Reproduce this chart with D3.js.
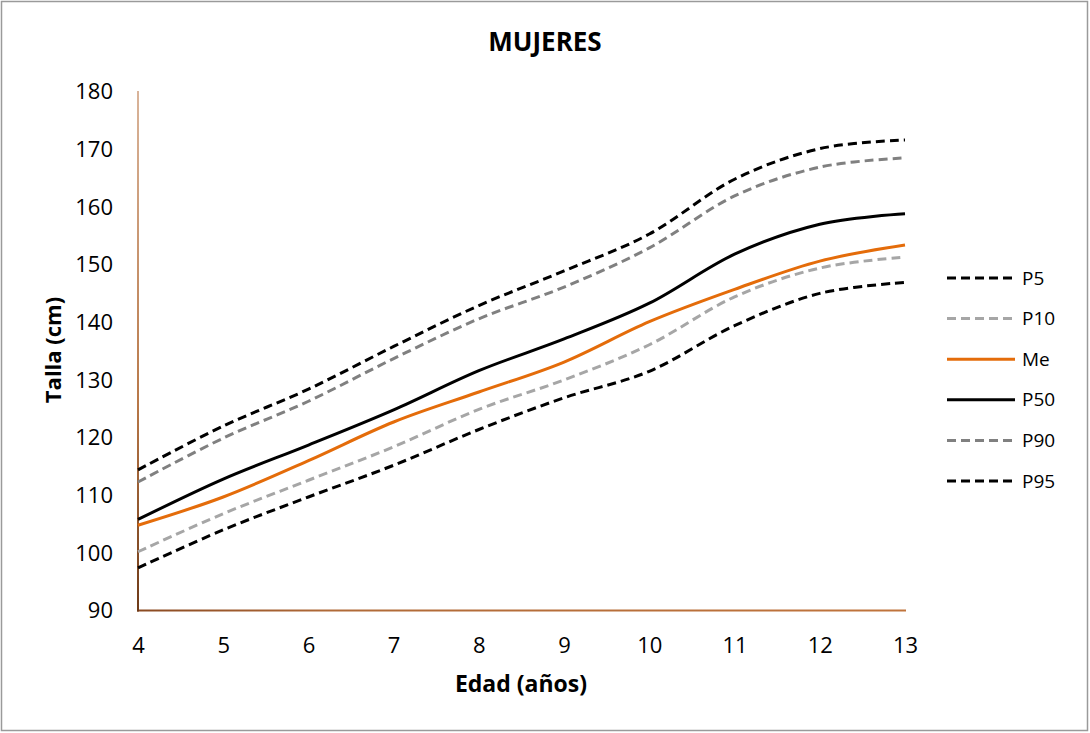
<!DOCTYPE html>
<html><head><meta charset="utf-8">
<script src="https://cdn.jsdelivr.net/npm/d3@7"></script>
<style>
html,body{margin:0;padding:0;background:#fff;}
svg{display:block;}
text{font-family:"Open Sans",sans-serif;fill:#000;}
</style></head>
<body>
<svg id="chart" width="1090" height="733"></svg>
<script>
const ages = [4, 5, 6, 7, 8, 9, 10, 11, 12, 13];
const p5  = [97.3, 103.9, 109.6, 115.1, 121.3, 126.8, 131.4, 139.3, 144.9, 146.8];
const p10 = [100.1, 106.7, 112.5, 118.3, 124.8, 129.9, 136.0, 144.3, 149.3, 151.2];
const me  = [104.7, 109.6, 115.9, 122.6, 127.8, 133.0, 140.0, 145.6, 150.5, 153.3];
const p50 = [105.7, 112.7, 118.6, 124.7, 131.5, 137.0, 143.2, 151.7, 156.9, 158.7];
const p90 = [112.2, 119.8, 126.2, 133.6, 140.5, 146.0, 152.8, 161.8, 166.8, 168.4];
const p95 = [114.3, 121.9, 128.3, 135.7, 142.8, 148.8, 155.2, 164.7, 170.0, 171.5];
const seriesNames = ["P5", "P10", "Me", "P50", "P90", "P95"];
const yTicks = [90, 100, 110, 120, 130, 140, 150, 160, 170, 180];
const xTicks = [4, 5, 6, 7, 8, 9, 10, 11, 12, 13];
const title = "MUJERES";
const xTitle = "Edad (años)";
const yTitle = "Talla (cm)";

const seriesValues = [p5, p10, me, p50, p90, p95];
const styles = {
  "P5":  {color: "#000000", dash: "9,5"},
  "P10": {color: "#a6a6a6", dash: "9,5"},
  "Me":  {color: "#e46c0a", dash: null},
  "P50": {color: "#000000", dash: null},
  "P90": {color: "#808080", dash: "9,5"},
  "P95": {color: "#000000", dash: "9,5"}
};

const svg = d3.select("#chart");
const L = 138, R = 905, T = 91, B = 610;
const x = d3.scaleLinear().domain([4, 13]).range([L, R]);
const y = d3.scaleLinear().domain([90, 180]).range([B, T]);

// outer border
svg.append("rect").attr("x", 1.5).attr("y", 1.5).attr("width", 1086).attr("height", 729)
  .attr("fill", "#fff").attr("stroke", "#9a9a9a").attr("stroke-width", 1.5);

const defs = svg.append("defs");
const gv = defs.append("linearGradient").attr("id", "gv").attr("x1", 0).attr("y1", 0).attr("x2", 0).attr("y2", 1);
gv.append("stop").attr("offset", "0%").attr("stop-color", "#d9b49a");
gv.append("stop").attr("offset", "60%").attr("stop-color", "#b87848");
gv.append("stop").attr("offset", "100%").attr("stop-color", "#6e3a18");
const gh = defs.append("linearGradient").attr("id", "gh").attr("x1", 0).attr("y1", 0).attr("x2", 1).attr("y2", 0);
gh.append("stop").attr("offset", "0%").attr("stop-color", "#8a4a22");
gh.append("stop").attr("offset", "25%").attr("stop-color", "#b06a38");
gh.append("stop").attr("offset", "100%").attr("stop-color", "#c0743c");

// title
svg.append("text").attr("x", 545).attr("y", 51).attr("text-anchor", "middle")
  .style("font-size", "26px").style("font-weight", "bold").text(title);

// y axis
const yAxis = d3.axisLeft(y).tickValues(yTicks).tickSize(0).tickPadding(25).tickFormat(d3.format("d"));
const gy = svg.append("g").attr("transform", `translate(${L},0)`).call(yAxis);
gy.select(".domain").remove();
gy.selectAll("text").style("font-size", "22px").style("font-family", "'Open Sans',sans-serif").attr("dy", "0.35em");

// x axis
const xAxis = d3.axisBottom(x).tickValues(xTicks).tickSize(0).tickPadding(27).tickFormat(d3.format("d"));
const gx = svg.append("g").attr("transform", `translate(0,${B})`).call(xAxis);
gx.select(".domain").remove();
gx.selectAll("text").style("font-size", "22px").style("font-family", "'Open Sans',sans-serif");

// axis lines (rects so gradients render)
svg.append("rect").attr("x", L - 1).attr("y", B - 0.5).attr("width", R - L + 2).attr("height", 2)
  .attr("fill", "url(#gh)");
svg.append("rect").attr("x", L - 1).attr("y", T).attr("width", 2).attr("height", B - T + 1.5)
  .attr("fill", "url(#gv)");

// axis titles
svg.append("text").attr("x", 521).attr("y", 692).attr("text-anchor", "middle")
  .style("font-size", "23px").style("font-weight", "bold").text(xTitle);
svg.append("text").attr("transform", "translate(61,350) rotate(-90)").attr("text-anchor", "middle")
  .style("font-size", "22px").style("font-weight", "bold").text(yTitle);

// lines
const line = d3.line().x((d, i) => x(ages[i])).y(d => y(d)).curve(d3.curveCardinal.tension(0));
const drawOrder = ["P10", "P90", "P5", "P95", "P50", "Me"];
drawOrder.forEach(name => {
  const idx = seriesNames.indexOf(name);
  const st = styles[name];
  svg.append("path").datum(seriesValues[idx]).attr("d", line)
    .attr("fill", "none").attr("stroke", st.color).attr("stroke-width", 3)
    .attr("stroke-dasharray", st.dash).attr("stroke-linecap", "butt");
});

// legend
const legY0 = 278, legDy = 40.6;
seriesNames.forEach((name, i) => {
  const st = styles[name];
  const yy = legY0 + i * legDy;
  svg.append("line").attr("x1", 947).attr("x2", 1015).attr("y1", yy).attr("y2", yy)
    .attr("stroke", st.color).attr("stroke-width", 3).attr("stroke-dasharray", st.dash);
  svg.append("text").attr("x", 1022).attr("y", yy).attr("dy", "0.35em")
    .style("font-size", "19px").text(name);
});
</script>
</body></html>
